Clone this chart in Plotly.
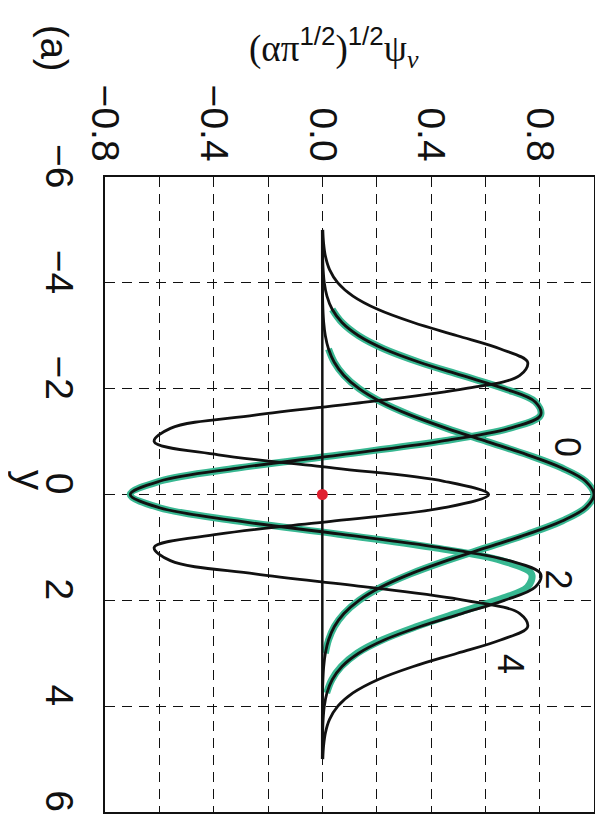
import plotly.graph_objects as go

# position variable y (vertical axis, runs -6 at top to 6 at bottom)
y_pos = [-5.0, -4.75, -4.5, -4.25, -4.0, -3.75, -3.5, -3.25, -3.0, -2.75, -2.5, -2.25,
         -2.0, -1.75, -1.5, -1.25, -1.0, -0.75, -0.5, -0.25, 0.0, 0.25, 0.5, 0.75,
         1.0, 1.25, 1.5, 1.75, 2.0, 2.25, 2.5, 2.75, 3.0, 3.25, 3.5, 3.75, 4.0,
         4.25, 4.5, 4.75, 5.0]

# black curves, (alpha pi^1/2)^1/2 psi_v
psi_0 = [0.0, 0.00001, 0.00004, 0.00012, 0.00034, 0.00088, 0.0022, 0.0051, 0.0111, 0.0228,
         0.0439, 0.0796, 0.1353, 0.2163, 0.3247, 0.4578, 0.6065, 0.7548, 0.8825, 0.9692,
         1.0,
         0.9692, 0.8825, 0.7548, 0.6065, 0.4578, 0.3247, 0.2163, 0.1353, 0.0796, 0.0439,
         0.0228, 0.0111, 0.0051, 0.0022, 0.00088, 0.00034, 0.00012, 0.00004, 0.00001, 0.0]
psi_2 = [0.0001, 0.0004, 0.0011, 0.0030, 0.0073, 0.0170, 0.0363, 0.0724, 0.1336, 0.2276,
         0.3573, 0.5134, 0.6699, 0.7838, 0.8035, 0.6879, 0.4289, 0.0667, -0.3120, -0.5997,
         -0.7071,
         -0.5997, -0.3120, 0.0667, 0.4289, 0.6879, 0.8035, 0.7838, 0.6699, 0.5134, 0.3573,
         0.2276, 0.1336, 0.0724, 0.0363, 0.0170, 0.0073, 0.0030, 0.0011, 0.0004, 0.0001]
psi_4 = [0.0017, 0.0046, 0.0115, 0.0266, 0.0571, 0.1128, 0.2037, 0.3348, 0.4967, 0.6560,
         0.7557, 0.7270, 0.5249, 0.1662, -0.2485, -0.5593, -0.6190, -0.3828, 0.0450, 0.4482,
         0.6124,
         0.4482, 0.0450, -0.3828, -0.6190, -0.5593, -0.2485, 0.1662, 0.5249, 0.7270, 0.7557,
         0.6560, 0.4967, 0.3348, 0.2037, 0.1128, 0.0571, 0.0266, 0.0115, 0.0046, 0.0017]

# green traced curves
green_a_y = [-3.5, -3.25, -3.0, -2.75, -2.5, -2.25, -2.0, -1.75, -1.5, -1.25, -1.0, -0.75,
             -0.5, -0.25, 0.0, 0.25, 0.5, 0.75, 1.0, 1.25, 1.5, 1.75, 2.0, 2.25, 2.5,
             2.75, 3.0, 3.25, 3.5, 3.75]
green_a = [0.0363, 0.0724, 0.1336, 0.2276, 0.3573, 0.5134, 0.6699, 0.7838, 0.8035, 0.6879,
           0.4289, 0.0667, -0.3120, -0.5997, -0.7071, -0.5997, -0.3120, 0.0600, 0.4050,
           0.6600, 0.7700, 0.7550, 0.6400, 0.4900, 0.3450, 0.2200, 0.1280, 0.0700, 0.0350,
           0.0160]
green_b_y = [-2.75, -2.5, -2.25, -2.0, -1.75, -1.5, -1.25, -1.0, -0.75, -0.5, -0.25, 0.0,
             0.25, 0.5, 0.75, 1.0, 1.25, 1.5, 1.75, 2.0, 2.25, 2.5, 2.75, 3.0]
green_b = [0.0228, 0.0439, 0.0796, 0.1353, 0.2163, 0.3247, 0.4578, 0.6065, 0.7548, 0.8825,
           0.9692, 1.0, 0.9692, 0.8825, 0.7548, 0.6065, 0.4578, 0.3247, 0.2163, 0.1353,
           0.0796, 0.0439, 0.0228, 0.0111]

zero_y = [-5.0, 5.0]
zero_psi = [0.0, 0.0]
dot_y = [0.0]
dot_psi = [0.0]

psi_ticks = [-0.8, -0.6, -0.4, -0.2, 0.0, 0.2, 0.4, 0.6, 0.8, 1.0]
psi_labels = ["\u22120.8", "", "\u22120.4", "", "0.0", "", "0.4", "", "0.8", ""]
y_ticks = [-6, -4, -2, 0, 2, 4, 6]
y_labels = ["\u22126", "\u22124", "\u22122", "0", "2", "4", "6"]

curve_labels = ["0", "2", "4"]
curve_label_psi = [0.90, 0.87, 0.69]
curve_label_y = [-0.9, 1.6, 3.2]

GREEN = "#38b892"
BLACK = "#111111"
SANS = "Liberation Sans, Arial, sans-serif"

W, H = 603, 815
L, R, T, B = 97, 17, 169, 11

fig = go.Figure()
for gy, gx in [(green_a_y, green_a), (green_b_y, green_b)]:
    fig.add_trace(go.Scatter(x=gx, y=gy, mode="lines", line=dict(color=GREEN, width=7, shape="spline"),
                             hoverinfo="skip", showlegend=False))
fig.add_trace(go.Scatter(x=zero_psi, y=zero_y, mode="lines", line=dict(color=BLACK, width=2.5),
                         showlegend=False))
for ser in [psi_0, psi_2, psi_4]:
    fig.add_trace(go.Scatter(x=ser, y=y_pos, mode="lines", line=dict(color=BLACK, width=2.8, shape="spline"),
                             showlegend=False))
fig.add_trace(go.Scatter(x=dot_psi, y=dot_y, mode="markers", marker=dict(color="#e02030", size=11),
                         showlegend=False))

tickfont = dict(family=SANS, size=39, color=BLACK)
common = dict(tickmode="array", tickangle=90, tickfont=tickfont, showgrid=True, gridcolor=BLACK,
              gridwidth=1.2, griddash="10px,7px", zeroline=False, showline=True, linecolor=BLACK,
              linewidth=1.5, mirror=True, ticks="inside", ticklen=7, tickcolor=BLACK,
              automargin=False)
fig.update_xaxes(range=[-0.8, 1.0], side="top", tickvals=psi_ticks, ticktext=psi_labels, **common)
fig.update_yaxes(range=[6, -6], tickvals=y_ticks, ticktext=y_labels, ticklabelstandoff=10,
                 ticklabelshift=5, **common)

for t, px, py in zip(curve_labels, curve_label_psi, curve_label_y):
    fig.add_annotation(x=px, y=py, xref="x", yref="y", text=t, showarrow=False, textangle=90,
                       font=dict(family=SANS, size=36, color=BLACK))

fig.update_layout(width=W, height=H, margin=dict(l=L, r=R, t=T, b=B, autoexpand=False),
                  paper_bgcolor="white", plot_bgcolor="white", showlegend=False)

pw, ph = W - L - R, H - T - B

def px2paper(xp, yp):
    return (xp - L) / pw, (H - B - yp) / ph

for text, xp, yp, ang, fam, size in [
    ("(a)", 46, 40, 90, SANS, 38),
    ("y", 22, 472, 90, SANS, 40),
    ("(\u03b1\u03c0<span style='font-family:Liberation Sans'><sup>1/2</sup></span>)"
     "<span style='font-family:Liberation Sans'><sup>1/2</sup></span>\u03c8<sub><i>v</i></sub>",
     326, 40, 0, "Liberation Serif, Times New Roman, serif", 37),
]:
    ax, ay = px2paper(xp, yp)
    fig.add_annotation(x=ax, y=ay, xref="paper", yref="paper", text=text, showarrow=False,
                       xanchor="center", yanchor="middle",
                       textangle=ang, font=dict(family=fam, size=size, color=BLACK))

fig.write_html("out.html")
